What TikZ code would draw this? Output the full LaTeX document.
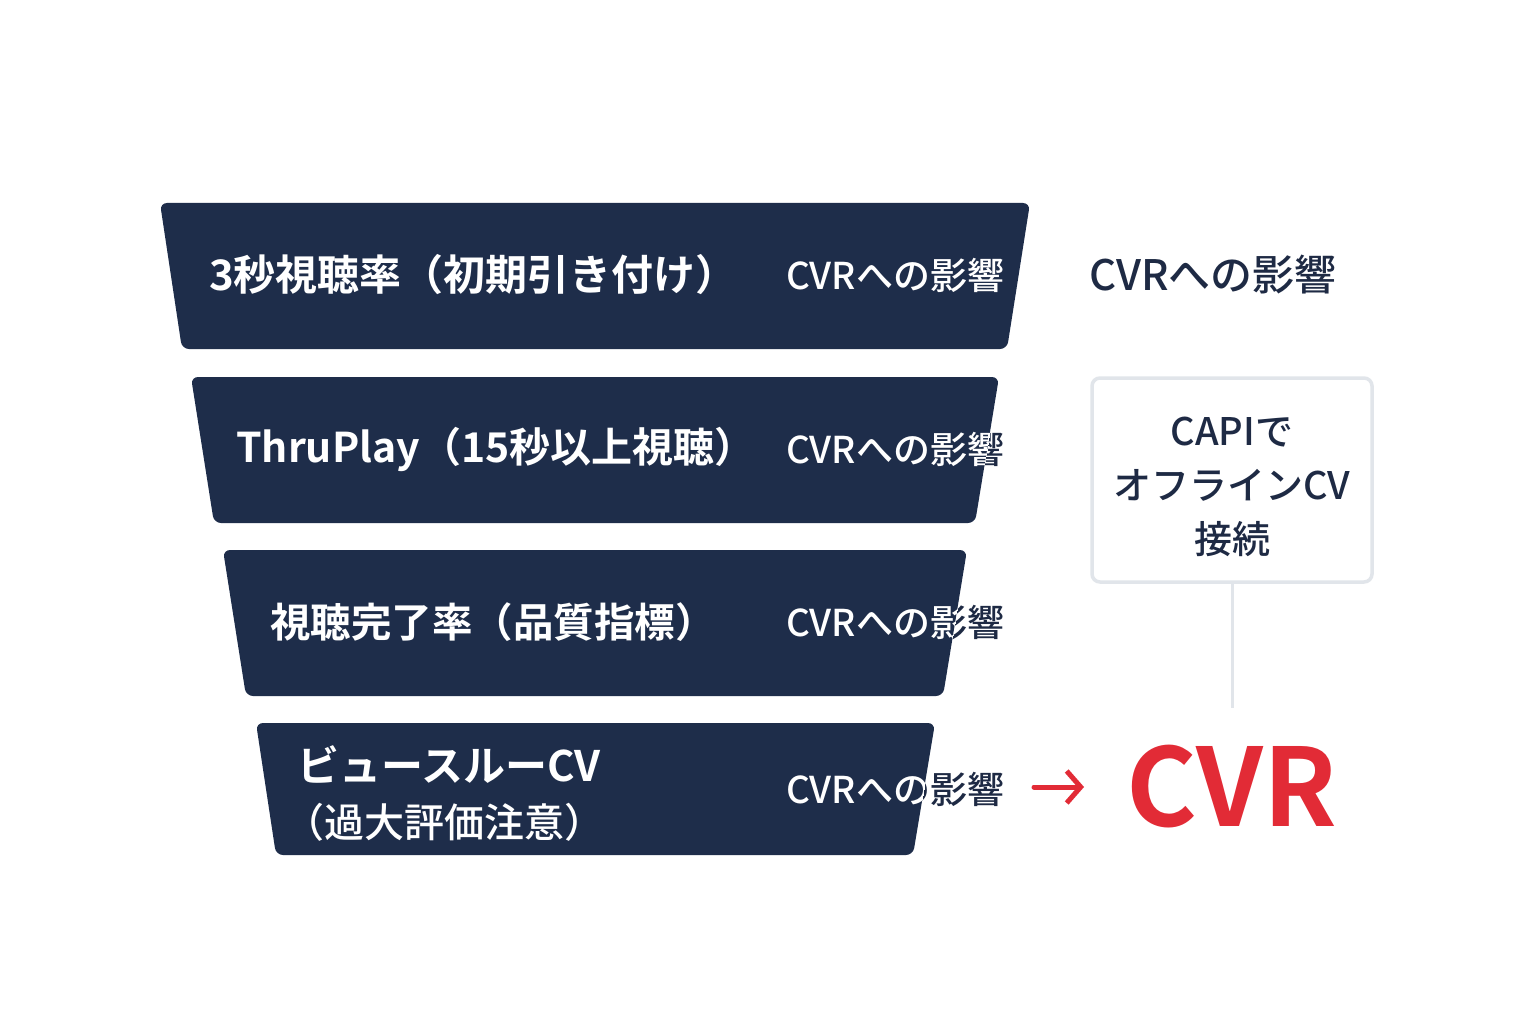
\documentclass[tikz,border=0pt]{standalone}
\usepackage{fontspec}
\setmainfont{Noto Sans CJK JP}[BoldFont={Noto Sans CJK JP Bold}]
\newfontfamily\medfont{Noto Sans CJK JP Medium}
\usetikzlibrary{arrows.meta}
\definecolor{navy}{HTML}{1E2D4A}
\definecolor{ink}{HTML}{1E2A44}
\definecolor{cvrred}{HTML}{E22B36}
\definecolor{edgegray}{HTML}{E1E5EA}
\tikzset{
  funnel/.style={fill=navy,rounded corners=7pt},
  stagetext/.style={anchor=west,inner sep=0pt,text=white,font=\bfseries\fontsize{42}{50}\selectfont},
  cvrlabel/.style={anchor=west,inner sep=0pt,font=\medfont\fontsize{37}{44}\selectfont},
  capibox/.style={draw=edgegray,line width=3.5pt,rounded corners=8pt,fill=white,minimum width=280pt,minimum height=204pt},
  boxtext/.style={inner sep=0pt,align=center,text=ink,font=\medfont\fontsize{38}{54}\selectfont},
}
\begin{document}
\begin{tikzpicture}[x=1pt,y=-1pt]
\useasboundingbox[fill=white] (0,0) rectangle (1536,1024);
% funnel stages
\def\trapA{(160,203) -- (1030,203) -- (1007,349) -- (182,349) -- cycle}
\def\trapB{(191,377) -- (999,377) -- (975,523) -- (214,523) -- cycle}
\def\trapC{(223,550) -- (967,550) -- (943,696) -- (246,696) -- cycle}
\def\trapD{(256,723) -- (935,723) -- (913,855) -- (276,855) -- cycle}
\fill[funnel] \trapA;
\fill[funnel] \trapB;
\fill[funnel] \trapC;
\fill[funnel] \trapD;
\node[stagetext] (s1) at (209,275) {3秒視聴率（初期引き付け）};
\node[stagetext,font=\bfseries\fontsize{41}{49}\selectfont] (s2) at (236,449) {ThruPlay（15秒以上視聴）};
\node[stagetext,font=\bfseries\fontsize{40.5}{49}\selectfont] (s3) at (270,622) {視聴完了率（品質指標）};
\node[stagetext] (s4a) at (297,765) {ビュースルーCV};
\node[stagetext,font=\medfont\fontsize{40}{48}\selectfont] (s4b) at (284,822) {（過大評価注意）};
% CVR labels: navy outside, white inside the stage
\foreach \t/\y in {\trapA/275,\trapB/449,\trapC/622,\trapD/789}{
  \node[cvrlabel,text=ink] at (786,\y) {CVRへの影響};
  \begin{scope}
    \clip \t;
    \node[cvrlabel,text=white] at (786,\y) {CVRへの影響};
  \end{scope}
}
\node[cvrlabel,text=ink,font=\medfont\fontsize{42}{50}\selectfont] (rlab) at (1089,275) {CVRへの影響};
% CAPI box
\node[capibox] (capi) at (1232,480) {};
\node[boxtext] (capitext) at (1232,487) {CAPIで\\オフラインCV\\接続};
\coordinate (lineEnd) at (1232,708);
\draw[edgegray,line width=3pt] (capi.south) -- (lineEnd);
% red arrow and CVR
\coordinate (arrStart) at (1034,787);
\node[inner sep=0pt,text=cvrred,font=\bfseries\fontsize{108}{116}\selectfont] (cvr) at (1232,787) {CVR};
\draw[cvrred,line width=5pt,line cap=round,-{Straight Barb[length=14pt,width=32pt,line width=5pt]}] (arrStart) -- (1084,787);
\end{tikzpicture}
\end{document}
